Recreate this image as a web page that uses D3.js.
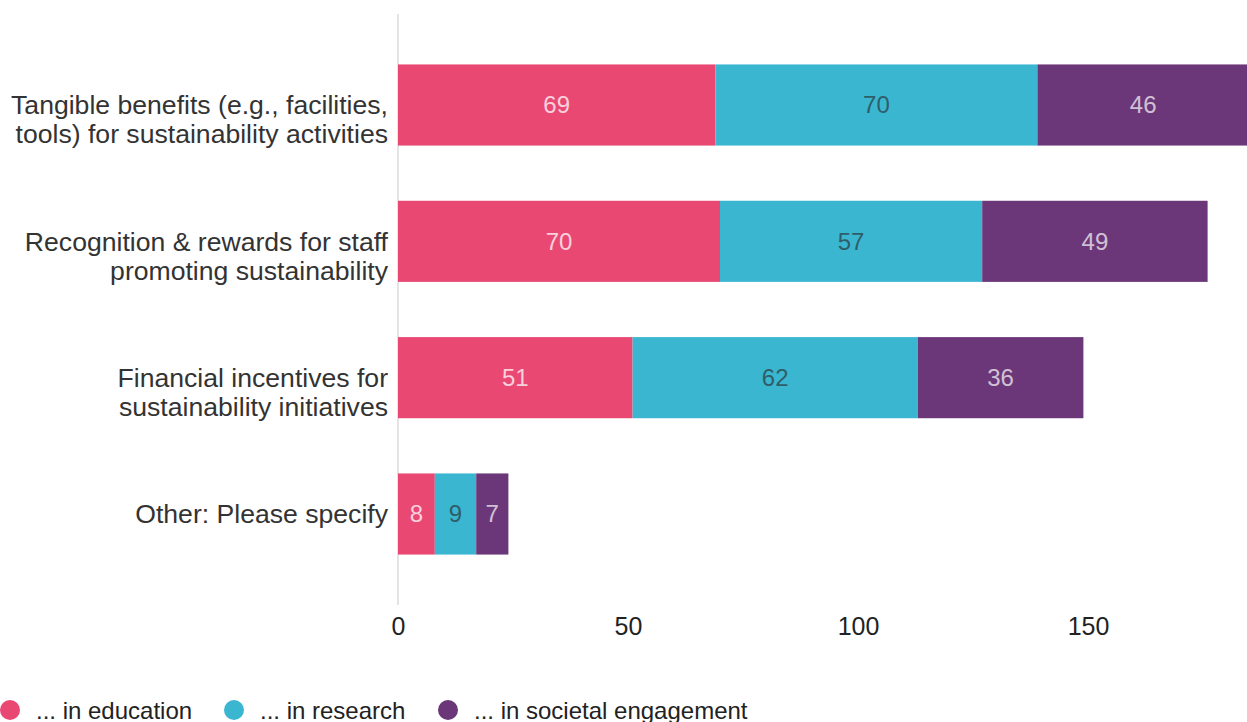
<!DOCTYPE html>
<html>
<head>
<meta charset="utf-8">
<script src="https://cdn.jsdelivr.net/npm/d3@7/dist/d3.min.js"></script>
<style>
  html, body { margin: 0; padding: 0; background: #fff; }
  svg { display: block; font-family: "Liberation Sans", Arial, sans-serif; }
</style>
</head>
<body>
<svg id="chart" width="1247" height="722"></svg>
<script>
// Incentive categories (each label split into display lines)
const categories = [
  ["Tangible benefits (e.g., facilities,", "tools) for sustainability activities"],
  ["Recognition & rewards for staff", "promoting sustainability"],
  ["Financial incentives for", "sustainability initiatives"],
  ["Other: Please specify"]
];
const seriesNames = ["... in education", "... in research", "... in societal engagement"];
const education = [69, 70, 51, 8];
const research  = [70, 57, 62, 9];
const societal  = [46, 49, 36, 7];
const xTicks = [0, 50, 100, 150];

const colors = ["#e94873", "#3bb6d1", "#6b3779"];
const labelColors = ["rgba(255,255,255,0.75)", "#2f5e69", "rgba(255,255,255,0.7)"];

const svg = d3.select("#chart");
const margin = { left: 398, top: 14, right: 0, bottom: 117 };
const width = 1247, height = 722;

const rows = categories.map((c, i) => ({
  key: i, lines: c,
  values: [education[i], research[i], societal[i]]
}));

const x = d3.scaleLinear().domain([0, 150]).range([margin.left, margin.left + 690]);
const y = d3.scaleBand()
  .domain(rows.map(d => d.key))
  .range([margin.top, height - margin.bottom])
  .paddingInner(0.405).paddingOuter(0.37);

// vertical baseline
svg.append("line")
  .attr("x1", x(0)).attr("x2", x(0))
  .attr("y1", margin.top).attr("y2", height - margin.bottom)
  .attr("stroke", "#e4e4e4").attr("stroke-width", 2);

// stacked segments
const stack = d3.stack().keys([0, 1, 2]).value((d, k) => d.values[k]);
const layers = stack(rows);

const g = svg.append("g");
layers.forEach((layer, si) => {
  const lg = g.append("g");
  lg.selectAll("rect").data(layer).join("rect")
    .attr("x", d => x(d[0]))
    .attr("y", d => y(d.data.key))
    .attr("width", d => x(d[1]) - x(d[0]))
    .attr("height", y.bandwidth())
    .attr("fill", colors[si]);
  lg.selectAll("text").data(layer).join("text")
    .attr("x", d => (x(d[0]) + x(d[1])) / 2)
    .attr("y", d => y(d.data.key) + y.bandwidth() / 2)
    .attr("dy", "0.35em")
    .attr("text-anchor", "middle")
    .attr("font-size", 24)
    .attr("fill", labelColors[si])
    .text(d => d[1] - d[0]);
});

// category labels: first line aligned with the bar centre, further lines below
const yl = svg.append("g");
rows.forEach(r => {
  const cy = y(r.key) + y.bandwidth() / 2;
  const lh = 29;
  const t = yl.append("text")
    .attr("text-anchor", "end")
    .attr("font-size", 26.6)
    .attr("fill", "#333");
  r.lines.forEach((ln, i) => {
    t.append("tspan")
      .attr("x", x(0) - 10)
      .attr("y", cy + i * lh)
      .attr("dy", "0.35em")
      .text(ln);
  });
});

// x axis
const xAxis = d3.axisBottom(x).tickValues(xTicks).tickSize(0).tickPadding(0);
const ax = svg.append("g")
  .attr("transform", `translate(0, ${height - margin.bottom})`)
  .call(xAxis);
ax.select(".domain").remove();
ax.selectAll("text")
  .attr("font-family", "Liberation Sans, Arial, sans-serif")
  .attr("font-size", 25)
  .attr("fill", "#222")
  .attr("y", 30)
  .attr("dy", 0);

// legend
const legendX = [10, 234, 448];
const lgd = svg.append("g");
seriesNames.forEach((name, i) => {
  lgd.append("circle")
    .attr("cx", legendX[i]).attr("cy", 710).attr("r", 10)
    .attr("fill", colors[i]);
  lgd.append("text")
    .attr("x", legendX[i] + 26).attr("y", 719)
    .attr("font-size", 24).attr("fill", "#222")
    .text(name);
});
</script>
</body>
</html>
